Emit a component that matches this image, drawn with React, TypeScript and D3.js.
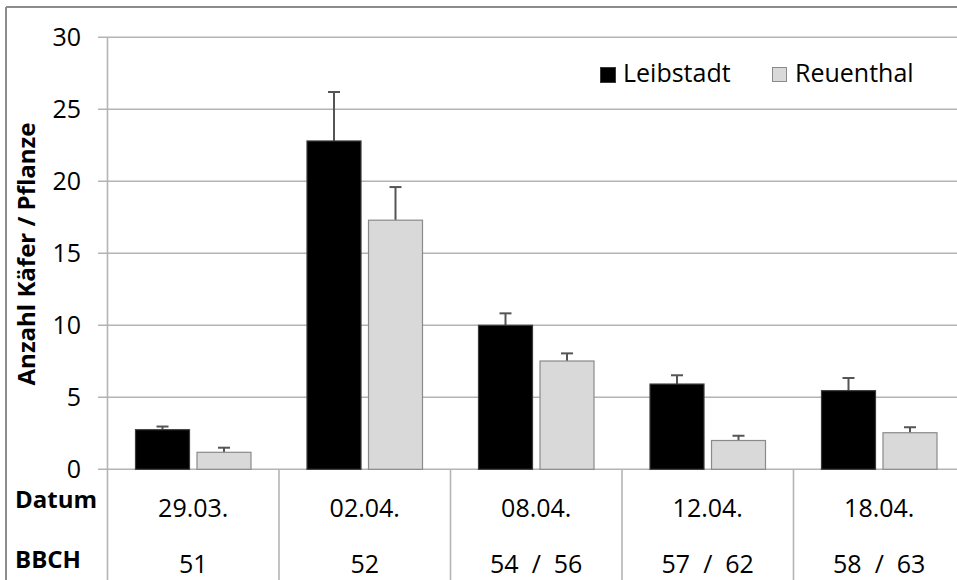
import React from "react";
import * as d3 from "d3";

const categories = ["29.03.", "02.04.", "08.04.", "12.04.", "18.04."];
const bbch = ["51", "52", "54  /  56", "57  /  62", "58  /  63"];
const seriesNames = ["Leibstadt", "Reuenthal"];
const leibstadt = [2.75, 22.8, 10.0, 5.92, 5.46];
const leibstadtErr = [0.22, 3.4, 0.83, 0.61, 0.88];
const reuenthal = [1.18, 17.3, 7.52, 2.0, 2.54];
const reuenthalErr = [0.32, 2.3, 0.53, 0.33, 0.38];
const yTicks = [0, 5, 10, 15, 20, 25, 30];

const W = 957;
const H = 580;
const FONT = "'Open Sans', 'Noto Sans', sans-serif";

export default function App() {
  const x = d3.scaleBand<string>().domain(categories).range([107.5, 965]).paddingInner(0).paddingOuter(0);
  const xs = d3.scaleBand<string>().domain(seriesNames).range([28, x.bandwidth() - 28]).paddingInner(0.122).paddingOuter(0);
  const y = d3.scaleLinear().domain([0, 30]).range([469.3, 37.3]);
  const series = [
    { name: seriesNames[0], values: leibstadt, errs: leibstadtErr, fill: "#000000", stroke: "#3a3a3a" },
    { name: seriesNames[1], values: reuenthal, errs: reuenthalErr, fill: "#d9d9d9", stroke: "#8a8a8a" },
  ];
  const gridColor = "#b4b4b4";
  const boundaries = categories.map((c) => x(c) as number);

  return (
    <svg width={W} height={H} style={{ position: "fixed", left: 0, top: 0, background: "#fff" }}>
      <rect x={0} y={0} width={W} height={H} fill="#fff" />
      {/* outer frame */}
      <line x1={6} x2={W} y1={7} y2={7} stroke="#8c8c8c" strokeWidth={2} />
      <line x1={6} x2={6} y1={7} y2={H} stroke="#8c8c8c" strokeWidth={2} />
      {/* gridlines + ticks */}
      {yTicks.map((t) => (
        <g key={t}>
          <line x1={98} x2={W} y1={y(t)} y2={y(t)} stroke={gridColor} strokeWidth={1.6} />
          <text x={81} y={y(t)} dy="0.36em" textAnchor="end" fontFamily={FONT} fontSize={25} fill="#000">
            {t}
          </text>
        </g>
      ))}
      {/* y axis line and table dividers */}
      <line x1={107.5} x2={107.5} y1={y(30)} y2={H} stroke={gridColor} strokeWidth={1.6} />
      {boundaries.slice(1).map((b, i) => (
        <line key={i} x1={b} x2={b} y1={y(0)} y2={H} stroke={gridColor} strokeWidth={1.6} />
      ))}
      {/* bars */}
      {series.map((s) =>
        categories.map((c, i) => {
          const bx = (x(c) as number) + (xs(s.name) as number);
          const bw = xs.bandwidth();
          const top = y(s.values[i]);
          const cx = bx + bw / 2;
          const et = y(s.values[i] + s.errs[i]);
          return (
            <g key={s.name + c}>
              <line x1={cx} x2={cx} y1={top} y2={et} stroke="#555" strokeWidth={2} />
              <line x1={cx - 6} x2={cx + 6} y1={et} y2={et} stroke="#555" strokeWidth={2} />
              <rect x={bx} y={top} width={bw} height={y(0) - top} fill={s.fill} stroke={s.stroke} strokeWidth={1.2} />
            </g>
          );
        })
      )}
      {/* category labels */}
      {categories.map((c, i) => (
        <g key={c}>
          <text x={(x(c) as number) + x.bandwidth() / 2} y={517} textAnchor="middle" fontFamily={FONT} fontSize={25} fill="#000">
            {c}
          </text>
          <text x={(x(c) as number) + x.bandwidth() / 2} y={573} textAnchor="middle" fontFamily={FONT} fontSize={25} fill="#000" style={{ whiteSpace: "pre" }}>
            {bbch[i]}
          </text>
        </g>
      ))}
      <text x={15} y={508} fontFamily={FONT} fontSize={24} fontWeight="bold" fill="#000">Datum</text>
      <text x={15} y={568} fontFamily={FONT} fontSize={24} fontWeight="bold" fill="#000">BBCH</text>
      {/* y axis title */}
      <text transform="translate(35,254) rotate(-90)" textAnchor="middle" fontFamily={FONT} fontSize={24} fontWeight="bold" fill="#000">
        Anzahl Käfer / Pflanze
      </text>
      {/* legend */}
      <rect x={600.5} y={67.5} width={15} height={15} fill="#000" stroke="#3a3a3a" />
      <text x={623} y={82} fontFamily={FONT} fontSize={25} fill="#000">{seriesNames[0]}</text>
      <rect x={772.5} y={67.5} width={14} height={14} fill="#d9d9d9" stroke="#8a8a8a" />
      <text x={795} y={82} fontFamily={FONT} fontSize={25} fill="#000">{seriesNames[1]}</text>
    </svg>
  );
}
